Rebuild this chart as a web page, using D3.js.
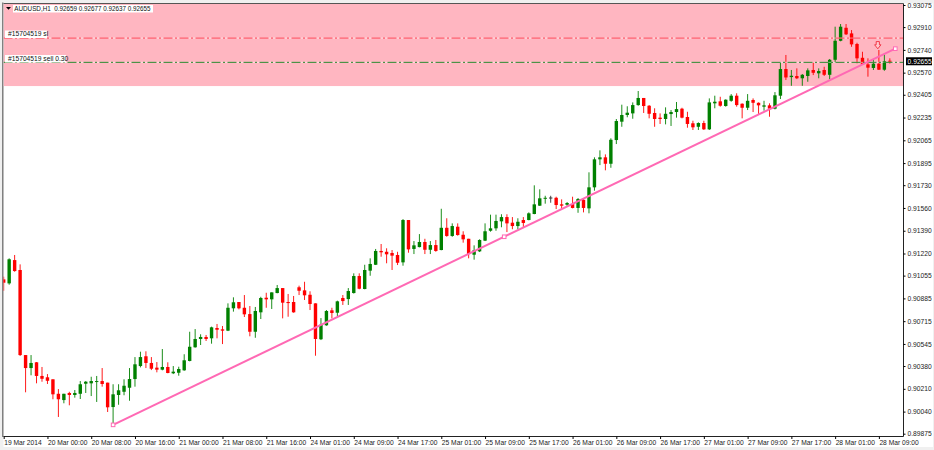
<!DOCTYPE html>
<html><head><meta charset="utf-8">
<script src="https://cdn.jsdelivr.net/npm/d3@7/dist/d3.min.js"></script>
<style>html,body{margin:0;padding:0;background:#fff}svg{display:block}text{font-family:"Liberation Sans",Arial,sans-serif}</style>
</head><body><div id="c"></div>
<script>
const opens=[0.91027,0.90997,0.91171,0.91097,0.90462,0.90365,0.90408,0.90306,0.90296,0.90281,0.90173,0.90126,0.90179,0.90164,0.90173,0.90248,0.90251,0.90261,0.90268,0.90256,
0.90074,0.90164,0.90188,0.90218,0.90283,0.90380,0.90453,0.90403,0.90368,0.90353,0.90373,0.90326,0.90330,0.90348,0.90418,0.90520,0.90582,0.90597,0.90587,0.90664,
0.90654,0.90644,0.90811,0.90858,0.90815,0.90768,0.90636,0.90781,0.90890,0.90878,0.90925,0.90962,0.90858,0.90858,0.90968,0.90945,0.90912,0.90848,0.90580,0.90684,
0.90796,0.90778,0.90888,0.90880,0.90925,0.91052,0.90955,0.91092,0.91136,0.91239,0.91233,0.91224,0.91209,0.91154,0.91470,0.91254,0.91268,0.91306,0.91248,0.91283,
0.91246,0.91412,0.91351,0.91420,0.91360,0.91330,0.91211,0.91236,0.91316,0.91390,0.91408,0.91460,0.91492,0.91450,0.91425,0.91470,0.91470,0.91515,0.91577,0.91629,
0.91638,0.91636,0.91587,0.91584,0.91589,0.91560,0.91621,0.91557,0.91714,0.91923,0.91938,0.91890,0.92067,0.92204,0.92254,0.92266,0.92328,0.92381,0.92323,0.92269,
0.92234,0.92224,0.92261,0.92276,0.92301,0.92239,0.92192,0.92166,0.92194,0.92147,0.92341,0.92356,0.92321,0.92360,0.92398,0.92338,0.92308,0.92366,0.92345,0.92316,
0.92326,0.92301,0.92398,0.92597,0.92537,0.92545,0.92528,0.92545,0.92590,0.92565,0.92590,0.92554,0.92666,0.92808,0.92905,0.92863,0.92784,0.92681,0.92632,0.92605,
0.92637,0.92592,0.92659];
const highs=[0.91047,0.91184,0.91209,0.91139,0.90462,0.90462,0.90410,0.90373,0.90320,0.90281,0.90208,0.90173,0.90188,0.90201,0.90268,0.90268,0.90300,0.90306,0.90365,0.90256,
0.90244,0.90244,0.90281,0.90365,0.90447,0.90487,0.90490,0.90447,0.90410,0.90507,0.90408,0.90380,0.90375,0.90468,0.90636,0.90656,0.90617,0.90612,0.90674,0.90694,
0.90679,0.90848,0.90893,0.90858,0.90910,0.90828,0.90821,0.90897,0.90927,0.90930,0.90985,0.90962,0.90918,0.90903,0.90980,0.91009,0.90938,0.90848,0.90738,0.90798,
0.90815,0.90868,0.90910,0.90962,0.91072,0.91072,0.91136,0.91184,0.91254,0.91291,0.91259,0.91246,0.91233,0.91477,0.91470,0.91313,0.91365,0.91330,0.91313,0.91321,
0.91554,0.91483,0.91445,0.91445,0.91386,0.91330,0.91281,0.91326,0.91445,0.91510,0.91510,0.91513,0.91513,0.91492,0.91483,0.91492,0.91527,0.91729,0.91699,0.91651,
0.91651,0.91644,0.91624,0.91604,0.91644,0.91634,0.91632,0.91826,0.91938,0.91990,0.91960,0.92080,0.92224,0.92331,0.92319,0.92348,0.92433,0.92381,0.92328,0.92304,
0.92266,0.92311,0.92291,0.92351,0.92308,0.92278,0.92211,0.92199,0.92211,0.92378,0.92398,0.92390,0.92371,0.92410,0.92416,0.92341,0.92410,0.92378,0.92348,0.92360,
0.92341,0.92425,0.92647,0.92702,0.92590,0.92602,0.92560,0.92602,0.92647,0.92602,0.92614,0.92672,0.92913,0.92933,0.92933,0.92888,0.92793,0.92726,0.92677,0.92664,
0.92739,0.92707,0.92677];
const lows=[0.90942,0.90987,0.91084,0.90455,0.90184,0.90311,0.90251,0.90263,0.90246,0.90132,0.90000,0.90102,0.90087,0.90144,0.90134,0.90179,0.90156,0.90112,0.90226,0.90037,
0.89945,0.90091,0.90162,0.90121,0.90226,0.90370,0.90365,0.90350,0.90333,0.90348,0.90326,0.90320,0.90308,0.90345,0.90415,0.90517,0.90537,0.90567,0.90547,0.90587,
0.90544,0.90641,0.90786,0.90803,0.90746,0.90602,0.90591,0.90731,0.90815,0.90806,0.90923,0.90736,0.90748,0.90778,0.90910,0.90873,0.90798,0.90457,0.90574,0.90681,
0.90736,0.90753,0.90836,0.90836,0.90921,0.90953,0.90953,0.91054,0.91134,0.91196,0.91147,0.91097,0.91134,0.91129,0.91226,0.91216,0.91266,0.91216,0.91216,0.91233,
0.91244,0.91345,0.91345,0.91353,0.91301,0.91184,0.91174,0.91231,0.91313,0.91383,0.91390,0.91416,0.91380,0.91401,0.91401,0.91410,0.91468,0.91513,0.91575,0.91592,
0.91599,0.91552,0.91554,0.91575,0.91557,0.91524,0.91527,0.91520,0.91689,0.91880,0.91841,0.91860,0.92037,0.92166,0.92237,0.92226,0.92323,0.92269,0.92229,0.92166,
0.92187,0.92184,0.92172,0.92234,0.92229,0.92159,0.92142,0.92142,0.92142,0.92142,0.92304,0.92316,0.92316,0.92353,0.92316,0.92229,0.92291,0.92276,0.92254,0.92286,
0.92241,0.92296,0.92373,0.92515,0.92472,0.92522,0.92472,0.92502,0.92552,0.92528,0.92545,0.92522,0.92647,0.92804,0.92851,0.92763,0.92640,0.92627,0.92540,0.92590,
0.92590,0.92584,0.92637];
const closes=[0.91002,0.91177,0.91089,0.90462,0.90365,0.90403,0.90306,0.90285,0.90270,0.90169,0.90132,0.90173,0.90164,0.90179,0.90244,0.90263,0.90268,0.90268,0.90246,0.90072,
0.90169,0.90199,0.90233,0.90283,0.90393,0.90447,0.90403,0.90360,0.90353,0.90373,0.90328,0.90338,0.90358,0.90423,0.90524,0.90582,0.90597,0.90582,0.90669,0.90651,
0.90644,0.90815,0.90856,0.90811,0.90766,0.90636,0.90791,0.90888,0.90878,0.90930,0.90962,0.90853,0.90850,0.90781,0.90942,0.90908,0.90843,0.90582,0.90689,0.90791,
0.90776,0.90863,0.90865,0.90940,0.91052,0.90957,0.91097,0.91142,0.91239,0.91229,0.91214,0.91204,0.91151,0.91470,0.91251,0.91281,0.91306,0.91248,0.91283,0.91239,
0.91412,0.91351,0.91425,0.91358,0.91326,0.91216,0.91244,0.91321,0.91386,0.91408,0.91463,0.91492,0.91445,0.91425,0.91457,0.91448,0.91520,0.91587,0.91632,0.91636,
0.91638,0.91582,0.91577,0.91597,0.91560,0.91627,0.91560,0.91714,0.91923,0.91938,0.91890,0.92069,0.92209,0.92254,0.92271,0.92328,0.92381,0.92321,0.92263,0.92224,
0.92224,0.92263,0.92276,0.92298,0.92234,0.92187,0.92162,0.92194,0.92147,0.92348,0.92353,0.92323,0.92368,0.92398,0.92328,0.92308,0.92360,0.92345,0.92326,0.92326,
0.92301,0.92401,0.92597,0.92534,0.92547,0.92528,0.92554,0.92587,0.92569,0.92582,0.92554,0.92666,0.92808,0.92913,0.92856,0.92781,0.92677,0.92632,0.92607,0.92637,
0.92592,0.92655,0.92655];
const priceTicks=[0.93075,0.92910,0.92740,0.92570,0.92405,0.92235,0.92065,0.91895,0.91730,0.91560,0.91390,0.91220,0.91055,0.90885,0.90715,0.90545,0.90380,0.90210,0.90040,0.89875];
const timeTicks=[0,8,16,24,32,40,48,56,64,72,80,88,96,104,112,120,128,136,144,152,160];
const timeLabels=["19 Mar 2014","20 Mar 00:00","20 Mar 08:00","20 Mar 16:00","21 Mar 00:00","21 Mar 08:00","21 Mar 16:00","24 Mar 01:00","24 Mar 09:00","24 Mar 17:00","25 Mar 01:00","25 Mar 09:00","25 Mar 17:00","26 Mar 01:00","26 Mar 09:00","26 Mar 17:00","27 Mar 01:00","27 Mar 09:00","27 Mar 17:00","28 Mar 01:00","28 Mar 09:00"];
const headerText="AUDUSD,H1  0.92659 0.92677 0.92637 0.92655";
const slLevel=0.92828, sellLevel=0.92647, bandLow=0.92470, lastPrice=0.92655;
const trendIdx=[20,163], trendPrice=[0.89941,0.92749], trendAnchorIdx=91.5;
const arrowIdx=159.8, arrowPrice=0.92775;

const W=934,H=450,L=3.5,R=903.5,T=3.5,B=436.5;
const x=d3.scaleLinear().domain([0,163]).range([3.7,895.3]);
const y=d3.scaleLinear().domain([0.89875,0.93075]).range([433.7,5]);
const svg=d3.select("#c").append("svg").attr("width",W).attr("height",H);
svg.append("defs").append("clipPath").attr("id","p").append("rect").attr("x",L).attr("y",T).attr("width",R-L).attr("height",B-T);
// window chrome
svg.append("rect").attr("width",W).attr("height",H).attr("fill","#f0f0f0");
svg.append("rect").attr("x",L).attr("y",T).attr("width",W-L-1).attr("height",447-T).attr("fill","#fff");
svg.append("rect").attr("x",2).attr("y",2.5).attr("width",1.5).attr("height",B-2).attr("fill","#808080");
const g=svg.append("g").attr("clip-path","url(#p)");
g.append("rect").attr("x",L).attr("y",T).attr("width",R-L).attr("height",y(bandLow)-T).attr("fill","#ffb6c1");
const idx=d3.range(opens.length);
const col=i=>closes[i]>opens[i]?"#008000":closes[i]<opens[i]?"#ff0000":"#333";
g.selectAll("line.w").data(idx).join("line").attr("class","w")
 .attr("x1",x).attr("x2",x).attr("y1",i=>y(highs[i])).attr("y2",i=>y(lows[i]))
 .attr("stroke",col).attr("stroke-width",0.9);
g.selectAll("rect.b").data(idx).join("rect").attr("class","b")
 .attr("x",i=>x(i)-1.7).attr("width",3.4)
 .attr("y",i=>y(Math.max(opens[i],closes[i])))
 .attr("height",i=>Math.max(1,Math.abs(y(opens[i])-y(closes[i]))))
 .attr("fill",col);
[[slLevel,"#ff3b4e"],[sellLevel,"#2a842a"]].forEach(([p,c])=>{
 g.append("line").attr("x1",L).attr("x2",R).attr("y1",y(p)).attr("y2",y(p)).attr("stroke","#fff").attr("stroke-opacity",.55).attr("stroke-width",1);
 g.append("line").attr("x1",L).attr("x2",R).attr("y1",y(p)).attr("y2",y(p)).attr("stroke",c).attr("stroke-width",1).attr("stroke-dasharray","9,2.5,2,2.5");
});
const tp=[[trendIdx[0],trendPrice[0]],[trendIdx[1],trendPrice[1]]];
g.append("line").attr("x1",x(tp[0][0])).attr("y1",y(tp[0][1])).attr("x2",x(tp[1][0])).attr("y2",y(tp[1][1])).attr("stroke","#ff69b4").attr("stroke-width",2);
const midP=(trendPrice[0]+trendPrice[1])/2;
[[tp[0][0],tp[0][1]],[trendAnchorIdx,midP],[tp[1][0],tp[1][1]]].forEach(([i,p])=>{
 g.append("rect").attr("x",x(i)-1.8).attr("y",y(p)-1.8).attr("width",3.6).attr("height",3.6).attr("fill","#fff").attr("stroke","#ff69b4").attr("stroke-width",1);
});
// sell arrow
const ax=x(arrowIdx),ay=y(arrowPrice);
g.append("path").attr("transform",`translate(${ax},${ay})`).attr("d","M-1.6,-3.6H1.6V-0.4H3.2L0,3.6L-3.2,-0.4H-1.6Z").attr("fill","#ffc9cf").attr("stroke","#f02c3c").attr("stroke-width",.9);
// header + labels
const lab=(tx,tyy,bx,by,bw,bh,fs,s)=>{
 svg.append("rect").attr("x",bx).attr("y",by).attr("width",bw).attr("height",bh).attr("fill","#fff");
 svg.append("text").attr("x",tx).attr("y",tyy).attr("font-size",fs).attr("fill","#111").style("white-space","pre").text(s);
};
lab(14.3,11.4,13,5,140,7.5,6.3,headerText);
lab(8,36.2,5,30.5,42,7.5,6.7,"#15704519 sl");
lab(8,60.7,5,55,61,7.5,6.7,"#15704519 sell 0.30");
svg.append("path").attr("d","M6,7H11L8.5,9.8Z").attr("fill","#000");
// axes
const ax1=svg.append("g").attr("transform",`translate(${R},0)`).call(d3.axisRight(y).tickValues(priceTicks).tickFormat(d3.format(".5f")).tickSize(2).tickPadding(2));
ax1.select(".domain").attr("d",`M0,${T}V${B}`).attr("stroke","#222");
ax1.selectAll("text").attr("font-size",6.7).attr("font-family",'"Liberation Sans"').attr("fill","#222");
const ax2=svg.append("g").attr("transform",`translate(0,${B})`).call(d3.axisBottom(x).tickValues(timeTicks).tickFormat((d,i)=>timeLabels[i]).tickSize(2.5).tickPadding(1));
ax2.select(".domain").attr("d",`M${L},0H${R}`).attr("stroke","#222");
ax2.selectAll("text").attr("text-anchor","start").attr("font-size",6.7).attr("font-family",'"Liberation Sans"').attr("fill","#222");
svg.append("line").attr("x1",L).attr("x2",R).attr("y1",T).attr("y2",T).attr("stroke","#555").attr("stroke-width",1);
// current price tag
svg.append("rect").attr("x",906).attr("y",y(lastPrice)-4).attr("width",26).attr("height",8).attr("fill","#000");
svg.append("text").attr("x",907.6).attr("y",y(lastPrice)+2.4).attr("font-size",6.7).attr("fill","#fff").text(d3.format(".5f")(lastPrice));
</script></body></html>
